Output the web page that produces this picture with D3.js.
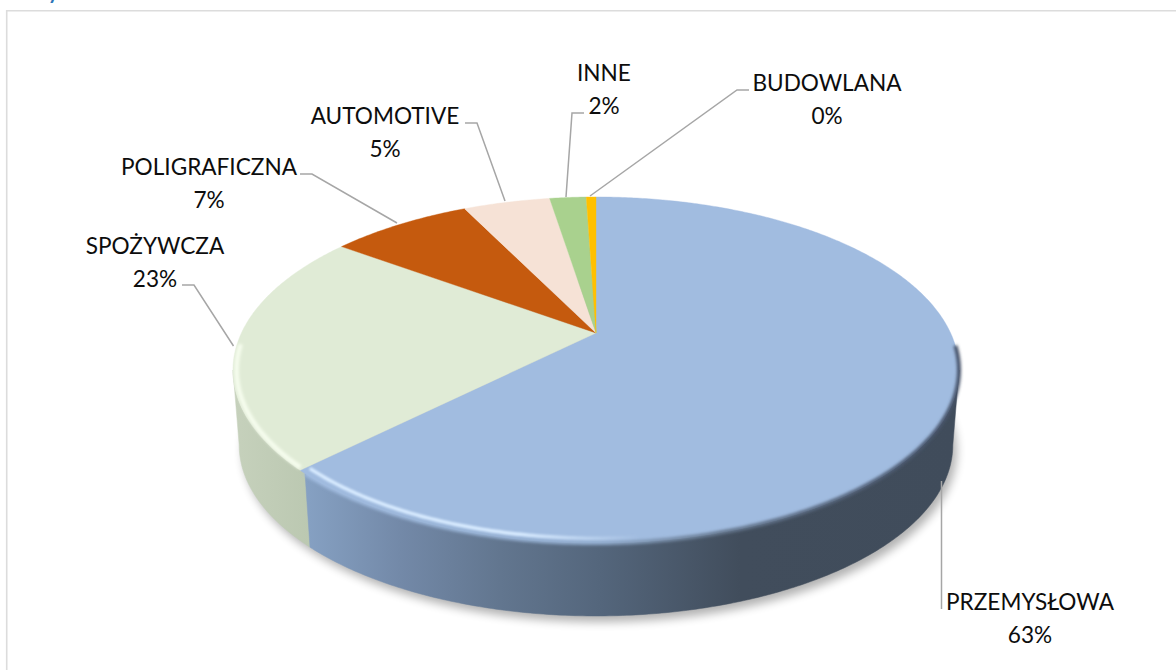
<!DOCTYPE html>
<html lang="pl">
<head>
<meta charset="utf-8">
<script src="https://cdn.jsdelivr.net/npm/d3@7/dist/d3.min.js"></script>
<style>
html,body{margin:0;padding:0;background:#fff;overflow:hidden}
svg{display:block}
text{font-family:Lato,"Open Sans",sans-serif;fill:#0d0d0d}
</style>
</head>
<body>
<svg id="chart" width="1176" height="670"></svg>
<script>
// ---- data ----
const categories = ["PRZEMYSŁOWA","SPOŻYWCZA","POLIGRAFICZNA","AUTOMOTIVE","INNE","BUDOWLANA"];
const shares = [62.53,22.5,7.69,4.75,2.0,0.53];
const shareLabels = ["63%","23%","7%","5%","2%","0%"];
const sliceColors = ["#a1bce0","#e0ebd6","#c55a0e","#f6e2d6","#a9d18e","#ffc000"];

// ---- layout of labels and leader lines (not data) ----
const labelCentres = [1030,155,209,385,604,827];
const labelBaselines = [609.5,253.5,174.5,123.5,80.5,90.5];
const lineGap = 33;
const leaders = [
  [[941.5,481],[941.5,609]],
  [[233.5,346],[194,285],[182,285]],
  [[397,223],[312,174],[300,174]],
  [[505,201],[477,123],[465,123]],
  [[566,197],[572,113],[584,113]],
  [[590,196],[737,90],[749,90]]
];

const svg = d3.select("#chart");
const defs = svg.append("defs");

// perspective disc: unit circle -> screen
const cx = 596, hubY = 333, K = 354.6, A = 93.9, C = -0.2139;
const top3d = a => {
  const u = Math.sin(a), v = -Math.cos(a), d = 1 + C*v;
  return [cx + K*u/d, (A*v + hubY)/d];
};
const midY = 370, baseMidY = 445, sx = 0.983, sy = 0.988;
const base3d = a => {
  const [x,y] = top3d(a);
  return [cx + (x-cx)*sx, baseMidY + (y-midY)*sy];
};
const inset = (a,k) => {
  const [x,y] = top3d(a);
  return [cx + (x-cx)*k, midY + (y-midY)*k];
};
const line = d3.line();
const sweep = (a0,a1,f) => {
  const n = Math.max(2, Math.ceil(Math.abs(a1-a0)/0.01));
  return d3.range(n+1).map(i => f(a0 + (a1-a0)*i/n));
};

const pie = d3.pie().sort(null).value(d => d);
const arcs = pie(shares);

// filters & gradients
const blur = (id,s) => defs.append("filter").attr("id",id)
  .attr("x","-10%").attr("y","-10%").attr("width","120%").attr("height","120%")
  .append("feGaussianBlur").attr("stdDeviation",s);
blur("shadowBlur",5); blur("rimBlur",1.5); blur("glowBlur",1);
const grad = (id,stops) => {
  const g = defs.append("linearGradient").attr("id",id)
    .attr("gradientUnits","userSpaceOnUse")
    .attr("x1",233).attr("x2",959).attr("y1",0).attr("y2",0);
  stops.forEach(([x,c,o]) => g.append("stop")
    .attr("offset",(x-233)/726).attr("stop-color",c).attr("stop-opacity",o===undefined?1:o));
};
grad("sideBlue",[[305,"#86a1c3"],[400,"#7389a8"],[500,"#62768f"],[600,"#54667c"],[740,"#414d5c"],[959,"#404c5b"]]);
grad("sideGreen",[[233,"#c6d1bc"],[310,"#bbc8b1"]]);
grad("rimEdge",[[305,"#a1bce0"],[600,"#8fa9ca"],[720,"#66788f"],[959,"#46536a"]]);
grad("rimGlow",[[305,"#d8ebff"],[520,"#d8ebff"],[640,"#d8ebff",0]]);

// frame + clipped heading fragment
svg.append("text").attr("x",48).attr("y",-1.5)
  .style("font-size","20px").style("font-weight",700).style("fill","#2e75b6").text("y");
svg.append("path").attr("d",line([[6.7,670],[6.7,10.7],[1176,10.7]]))
  .attr("fill","none").attr("stroke","#dcdcdc").attr("stroke-width",1.6);

// shadow
const thR = Math.acos(C), thL = 2*Math.PI - thR;
svg.append("path")
  .attr("d",line(sweep(0,2*Math.PI,a => { const [x,y] = base3d(a); return [x+4,y+6]; }))+"Z")
  .attr("fill","#000").attr("opacity",0.3).attr("filter","url(#shadowBlur)");

// side wall: only the front of the first and second slices shows
const wallSplit = arcs[0].endAngle - 0.02;
const sideSpans = [
  {a0:wallSplit, a1:thL, fill:"url(#sideGreen)"},
  {a0:thR, a1:wallSplit, fill:"url(#sideBlue)"}
];
svg.selectAll("path.side").data(sideSpans).join("path").attr("class","side")
  .attr("d",d => line(sweep(d.a0,d.a1,top3d).concat(sweep(d.a1,d.a0,base3d)))+"Z")
  .attr("fill",d => d.fill)
  .attr("stroke",d => d.fill).attr("stroke-width",0.5);

// top face slices
const slicePath = d => line([[cx,hubY]].concat(sweep(d.startAngle,d.endAngle,top3d)))+"Z";
svg.selectAll("path.slice").data(arcs).join("path").attr("class","slice")
  .attr("d",slicePath)
  .attr("fill",(d,i) => sliceColors[i])
  .attr("stroke",(d,i) => sliceColors[i]).attr("stroke-width",0.4);

// bevel along the front edge
const bevel = [
  {a0:thR-0.14, a1:wallSplit, k:1, stroke:"url(#rimEdge)", w:4, f:"url(#rimBlur)"},
  {a0:thR+0.8, a1:arcs[0].endAngle-0.006, k:0.972, stroke:"url(#rimGlow)", w:3.5, f:"url(#glowBlur)"},
  {a0:arcs[1].startAngle+0.012, a1:thL+0.15, k:0.99, stroke:"#f6fdee", w:4.5, f:"url(#rimBlur)"}
];
svg.selectAll("path.bevel").data(bevel).join("path").attr("class","bevel")
  .attr("d",d => line(sweep(d.a0,d.a1,a => inset(a,d.k))))
  .attr("fill","none").attr("stroke",d => d.stroke).attr("stroke-width",d => d.w)
  .attr("filter",d => d.f);

// leaders
svg.selectAll("path.leader").data(leaders).join("path").attr("class","leader")
  .attr("d",d => line(d)).attr("fill","none").attr("stroke","#a6a6a6").attr("stroke-width",1.5);

// labels
const labels = svg.selectAll("g.label").data(categories).join("g").attr("class","label")
  .attr("text-anchor","middle").style("font-size","22.6px");
labels.append("text").attr("x",(d,i) => labelCentres[i]).attr("y",(d,i) => labelBaselines[i]).text(d => d);
labels.append("text").attr("x",(d,i) => labelCentres[i]).attr("y",(d,i) => labelBaselines[i]+lineGap)
  .text((d,i) => shareLabels[i]);
</script>
</body>
</html>
